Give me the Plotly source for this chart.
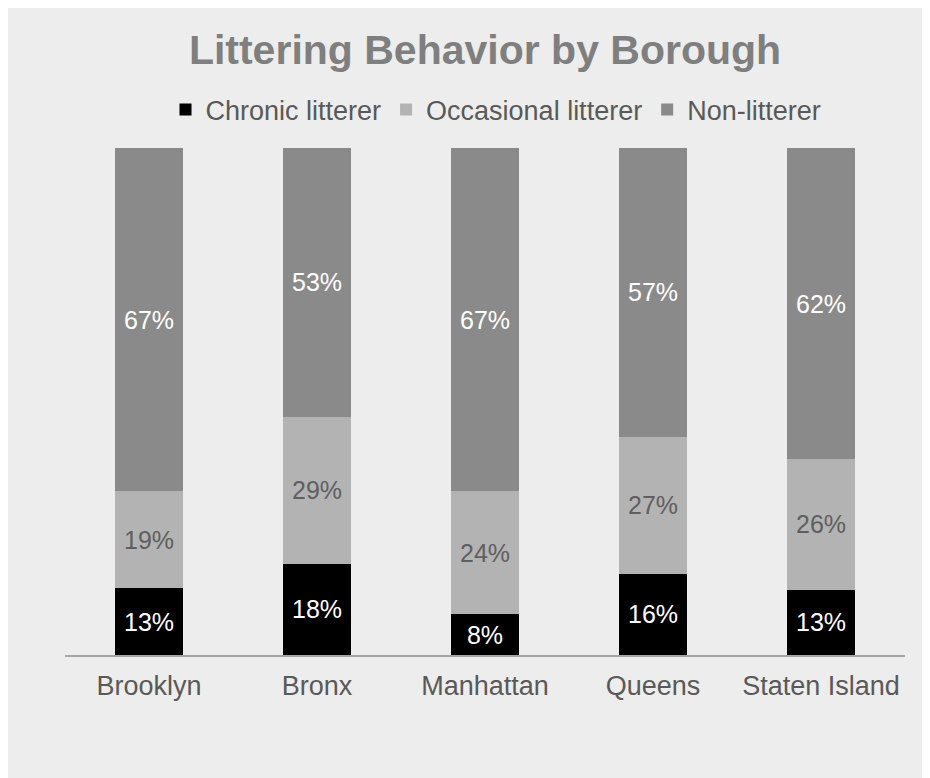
import plotly.graph_objects as go

boroughs = ["Brooklyn", "Bronx", "Manhattan", "Queens", "Staten Island"]
chronic = [13, 18, 8, 16, 13]
occasional = [19, 29, 24, 27, 26]
non_litterer = [67, 53, 67, 57, 62]

series = [
    ("Chronic litterer", chronic, "#000000", "#ffffff"),
    ("Occasional litterer", occasional, "#b3b3b3", "#5f5f5f"),
    ("Non-litterer", non_litterer, "#8a8a8a", "#ffffff"),
]

FONT = "Liberation Sans, Arial, sans-serif"
fig = go.Figure()
for name, vals, col, tcol in series:
    fig.add_trace(go.Bar(
        x=boroughs, y=vals, name=name,
        marker=dict(color=col, line=dict(width=0)),
        text=[f"{v}%" for v in vals], texttemplate="%{text}",
        textposition="inside", insidetextanchor="middle",
        insidetextfont=dict(family=FONT, size=25, color=tcol),
        hoverinfo="x+name+text",
    ))

# page is drawn with an 8px offset; plot area on screen: x 65..905, y 148..655
OFF = 8
W, H = 940, 790
def px_x(p):
    return (p - 65) / 840
def px_y(p):
    return (655 - p) / 507

fig.update_layout(
    width=W, height=H,
    barmode="stack", barnorm="percent", bargap=0.6,
    paper_bgcolor="#ededed", plot_bgcolor="#ededed",
    margin=dict(l=65 - OFF, r=W - (905 - OFF), t=148 - OFF, b=H - (655 - OFF),
                autoexpand=False),
    font=dict(family=FONT, color="#595959"),
    title=dict(text="<b>Littering Behavior by Borough</b>", x=0.5, xref="paper",
               y=1 - (50 - OFF) / H, yref="container", xanchor="center", yanchor="middle",
               font=dict(family=FONT, size=41, color="#7f7f7f")),
    legend=dict(orientation="h", x=px_x(496), xanchor="center", y=px_y(110), yanchor="middle",
                font=dict(family=FONT, size=27, color="#595959"), traceorder="normal",
                itemwidth=30, bgcolor="rgba(0,0,0,0)"),
    xaxis=dict(showline=True, linecolor="#a6a6a6", linewidth=2, ticks="outside",
               ticklen=6, tickcolor="rgba(0,0,0,0)",
               tickfont=dict(family=FONT, size=27, color="#595959"), showgrid=False),
    yaxis=dict(range=[0, 100], visible=False, showgrid=False),
    showlegend=True,
)

fig.write_html("out.html")
